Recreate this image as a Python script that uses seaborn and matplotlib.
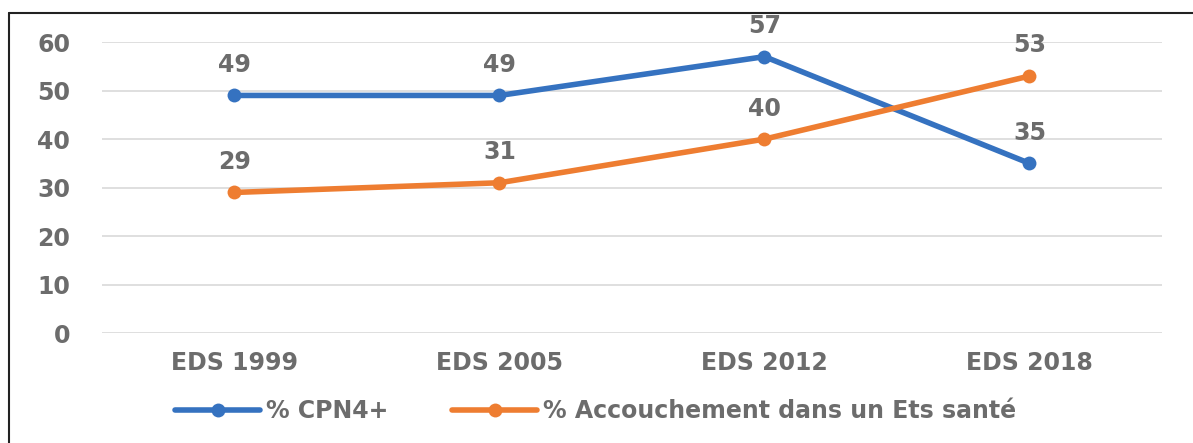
import matplotlib
matplotlib.use("Agg")
import matplotlib.pyplot as plt
from matplotlib.lines import Line2D
import seaborn as sns
import pandas as pd

surveys = ["EDS 1999", "EDS 2005", "EDS 2012", "EDS 2018"]
cpn4 = [49, 49, 57, 35]
accouchement = [29, 31, 40, 53]
series_names = ["% CPN4+", "% Accouchement dans un Ets santé"]
y_ticks = [0, 10, 20, 30, 40, 50, 60]

df = pd.DataFrame({
    "survey": surveys * 2,
    "value": cpn4 + accouchement,
    "series": [series_names[0]] * len(surveys) + [series_names[1]] * len(surveys),
})

sns.set_theme(style="white")
plt.rcParams["font.family"] = ["DejaVu Sans"]
plt.rcParams["font.weight"] = "bold"

palette = {series_names[0]: "#3572C0", series_names[1]: "#EE7D31"}
text_grey = "#6c6c6c"
fs = 17

fig = plt.figure(figsize=(11.93, 4.43), dpi=100)
ax = fig.add_axes([0.0855, 0.248, 0.8885, 0.657])

sns.lineplot(data=df, x="survey", y="value", hue="series", palette=palette,
             marker="o", markersize=10, markeredgewidth=0, linewidth=4,
             sort=False, legend=False, ax=ax)

for name, vals in zip(series_names, [cpn4, accouchement]):
    for i, v in enumerate(vals):
        ax.annotate(str(v), (i, v), xytext=(0, 22), textcoords="offset points",
                    ha="center", va="center", fontsize=fs, color=text_grey)

ax.set_xlim(-0.5, 3.5)
ax.set_ylim(0, 60)
ax.set_yticks(y_ticks)
ax.yaxis.grid(True, color="#d9d9d9", linewidth=1.2)
ax.set_axisbelow(True)
for s in ax.spines.values():
    s.set_visible(False)
ax.tick_params(axis="both", length=0, labelsize=fs, colors=text_grey)
ax.tick_params(axis="y", pad=23)
ax.tick_params(axis="x", pad=13)
ax.set_xlabel("")
ax.set_ylabel("")

handles = [Line2D([0], [0], color=palette[n], linewidth=4, marker="o",
                  markersize=10, markeredgewidth=0) for n in series_names]
leg = fig.legend(handles, series_names, loc="center left",
                 bbox_to_anchor=(175 / 1193, 0.072), borderpad=0, borderaxespad=0,
                 ncol=2, frameon=False, fontsize=fs, handlelength=3.6,
                 handletextpad=0.25, columnspacing=2.7)
for t in leg.get_texts():
    t.set_color(text_grey)

# outer frame: top and left edges
fig.add_artist(Line2D([9 / 1193, 1], [1 - 13 / 443, 1 - 13 / 443], color="#222222", linewidth=1.5))
fig.add_artist(Line2D([9 / 1193, 9 / 1193], [0, 1 - 13 / 443], color="#222222", linewidth=1.5))

fig.savefig("out.png", dpi=100)
